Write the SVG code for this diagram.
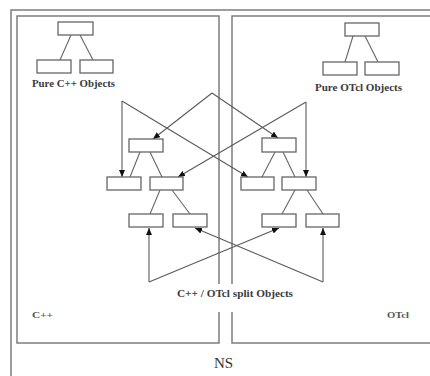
<svg xmlns="http://www.w3.org/2000/svg" width="430" height="376" viewBox="0 0 430 376">
<defs>
<marker id="arr" markerUnits="userSpaceOnUse" markerWidth="7" markerHeight="6" refX="7" refY="3" orient="auto"><path d="M0,0 L7,3 L0,6 z" fill="#111"/></marker>
<style>
.frame{fill:none;stroke:#7d7d7d;stroke-width:1.5}
.box{fill:#fff;stroke:#666;stroke-width:1.3}
.edge{fill:none;stroke:#666;stroke-width:1.1}
.conn{fill:none;stroke:#5a5a5a;stroke-width:1.1;marker-end:url(#arr)}
.lbl{font-family:"Liberation Serif",serif;font-weight:bold;fill:#3a3a3a;font-size:10.5px;text-anchor:middle}
.sm{font-family:"Liberation Serif",serif;font-weight:bold;fill:#555;font-size:9px}
</style>
</defs>
<rect width="430" height="376" fill="#fff"/>
<g id="frames">
<path class="frame" d="M430,10 H11 V376"/>
<path class="frame" d="M219,284 V16 H17 V343 H219 V312"/>
<path class="frame" d="M430,16 H232 V284 M232,312 V343 H430"/>
</g>
<g id="connectors">
<line class="conn" x1="122" y1="101" x2="122" y2="177"/>
<line class="conn" x1="122" y1="101" x2="248" y2="177"/>
<line class="conn" x1="212" y1="93" x2="153" y2="139"/>
<line class="conn" x1="212" y1="93" x2="278" y2="138"/>
<line class="conn" x1="306" y1="102" x2="306" y2="177"/>
<line class="conn" x1="306" y1="102" x2="178" y2="177"/>
<line class="conn" x1="149" y1="282" x2="149" y2="228"/>
<line class="conn" x1="149" y1="282" x2="279" y2="228"/>
<line class="conn" x1="323" y1="282" x2="323" y2="228"/>
<line class="conn" x1="323" y1="282" x2="195" y2="228"/>
</g>
<g id="pure-cpp">
<line class="edge" x1="71" y1="35" x2="60" y2="60"/>
<line class="edge" x1="80" y1="35" x2="93" y2="60"/>
<rect class="box" x="58" y="22" width="35" height="13"/>
<rect class="box" x="37" y="60" width="34" height="13"/>
<rect class="box" x="80" y="60" width="33" height="13"/>
<text class="lbl" x="73.5" y="87" textLength="83" lengthAdjust="spacingAndGlyphs">Pure C++ Objects</text>
</g>
<g id="pure-otcl">
<line class="edge" x1="353" y1="36" x2="345" y2="62"/>
<line class="edge" x1="365" y1="36" x2="378" y2="62"/>
<rect class="box" x="345" y="23" width="34" height="13"/>
<rect class="box" x="323" y="62" width="34" height="13"/>
<rect class="box" x="365" y="62" width="34" height="13"/>
<text class="lbl" x="358.5" y="91" textLength="87" lengthAdjust="spacingAndGlyphs">Pure OTcl Objects</text>
</g>
<g id="split-cpp">
<line class="edge" x1="140" y1="152" x2="130" y2="177"/>
<line class="edge" x1="150" y1="152" x2="162" y2="177"/>
<line class="edge" x1="160" y1="190" x2="150" y2="214"/>
<line class="edge" x1="172" y1="190" x2="190" y2="214"/>
<rect class="box" x="129" y="139" width="34" height="13"/>
<rect class="box" x="107" y="177" width="34" height="13"/>
<rect class="box" x="150" y="177" width="33" height="13"/>
<rect class="box" x="129" y="214" width="34" height="13"/>
<rect class="box" x="173" y="214" width="34" height="13"/>
</g>
<g id="split-otcl">
<line class="edge" x1="275" y1="152" x2="262" y2="177"/>
<line class="edge" x1="283" y1="152" x2="295" y2="177"/>
<line class="edge" x1="295" y1="190" x2="282" y2="214"/>
<line class="edge" x1="307" y1="190" x2="323" y2="214"/>
<rect class="box" x="262" y="138" width="34" height="14"/>
<rect class="box" x="241" y="177" width="33" height="13"/>
<rect class="box" x="282" y="177" width="34" height="13"/>
<rect class="box" x="262" y="214" width="34" height="13"/>
<rect class="box" x="306" y="214" width="33" height="13"/>
</g>
<g id="split-label">
<text class="lbl" x="235" y="297" textLength="116" lengthAdjust="spacingAndGlyphs">C++ / OTcl split Objects</text>
</g>
<g id="cpp-label"><text class="sm" x="32" y="318" textLength="21" lengthAdjust="spacingAndGlyphs">C++</text></g>
<g id="otcl-label"><text class="sm" x="387" y="318" textLength="22" lengthAdjust="spacingAndGlyphs">OTcl</text></g>
<g id="ns-label"><text x="223.5" y="368" font-family="'Liberation Serif',serif" font-size="15" fill="#333" text-anchor="middle">NS</text></g>
</svg>
